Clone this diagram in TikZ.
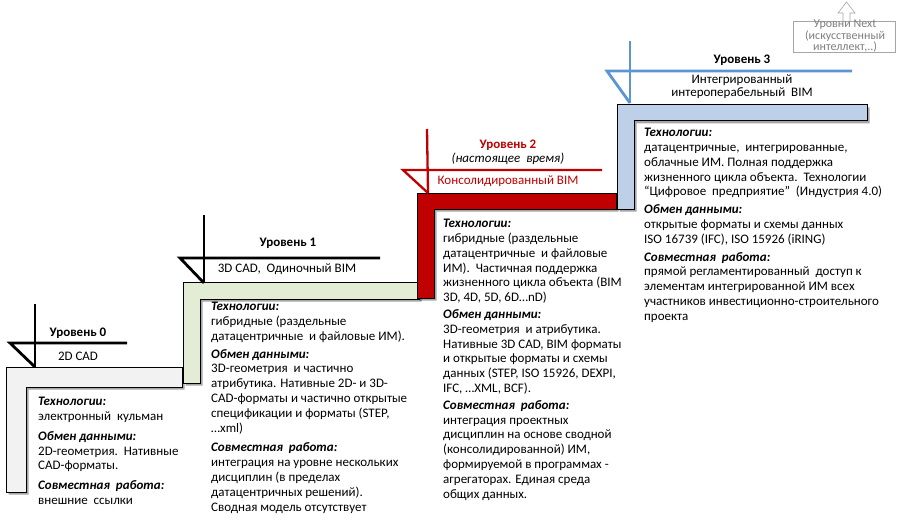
\documentclass[tikz,border=0pt]{standalone}
\usepackage{fontspec}
\setmainfont{Carlito}
\usetikzlibrary{shadows}
\definecolor{stepgray}{HTML}{F2F2F2}
\definecolor{stepgreen}{HTML}{E3EDD6}
\definecolor{stepred}{HTML}{C00000}
\definecolor{stepblue}{HTML}{BDD0E8}
\definecolor{markblue}{HTML}{5B96D2}
\definecolor{nextgray}{HTML}{A6A6A6}
\definecolor{nexttext}{HTML}{7F7F7F}
\newcommand\lvhead[1]{\textbf{\textit{#1}}}
\begin{document}
\begin{tikzpicture}[x=1pt,y=-1pt,
  stepshape/.style={draw=black, line width=1pt, drop shadow={shadow xshift=2.5pt, shadow yshift=-2.5pt, opacity=0.35, fill=black}},
  marker/.style={line width=2.8pt},
  body/.style={anchor=north west, align=left, inner sep=0pt, font=\fontsize{13}{14.8}\selectfont},
  title/.style={inner sep=0pt, font=\fontsize{13}{14}\selectfont\bfseries},
  sub/.style={inner sep=0pt, font=\fontsize{13}{14}\selectfont},
  nexttxt/.style={inner sep=0pt, text=nexttext, font=\fontsize{12}{12}\selectfont}
]
\useasboundingbox[fill=white] (0,0) rectangle (897,524);

% ---------- Level 0 ----------
\draw[stepshape, fill=stepgray] (6,367) -- (182,367) -- (182,387) -- (26,387) -- (26,492) -- (6,492) -- cycle;
\coordinate (m0t) at (35,304);
\coordinate (m0b) at (35,367);
\coordinate (m0l) at (10,343);
\coordinate (m0r) at (127,343);
\draw[marker] (m0t) -- (m0b);
\draw[marker, line join=miter] (m0r) -- (m0l) -- (m0b);
\node[title] (t0) at (78,333) {Уровень 0};
\node[sub] (s0) at (78,356) {2D CAD};
\node[body] (b0) at (38,397) {\lvhead{Технологии:}\\
электронный\ \ кульман\\[5pt]
\lvhead{Обмен данными:}\\
2D-геометрия.\ \ Нативные\\
CAD-форматы.\\[5pt]
\lvhead{Совместная\ \ работа:}\\
внешние\ \ ссылки};

% ---------- Level 1 ----------
\draw[stepshape, fill=stepgreen] (183,282) -- (419,282) -- (419,299) -- (200,299) -- (200,383) -- (183,383) -- cycle;
\coordinate (m1t) at (204,215);
\coordinate (m1b) at (204,283);
\coordinate (m1l) at (180,258);
\coordinate (m1r) at (380,258);
\draw[marker] (m1t) -- (m1b);
\draw[marker, line join=miter] (m1r) -- (m1l) -- (m1b);
\node[title] (t1) at (288,243) {Уровень 1};
\node[sub] (s1) at (287,269) {3D CAD,\ \ Одиночный BIM};
\node[body] (b1) at (211,302) {\lvhead{Технологии:}\\
гибридные (раздельные\\
датацентричные\ \ и файловые ИМ).\\[3pt]
\lvhead{Обмен данными:}\\
3D-геометрия\ \ и частично\\
атрибутика. Нативные 2D- и 3D-\\
CAD-форматы и частично открытые\\
спецификации и форматы (STEP,\\
…xml)\\[5pt]
\lvhead{Совместная\ \ работа:}\\
интеграция на уровне нескольких\\
дисциплин (в пределах\\
датацентричных решений).\\
Сводная модель отсутствует};

% ---------- Level 2 ----------
\draw[stepshape, fill=stepred] (417,193) -- (616,193) -- (616,209) -- (434,209) -- (434,298) -- (417,298) -- cycle;
\coordinate (m2t) at (427,129);
\coordinate (m2b) at (428,193);
\coordinate (m2l) at (403,170);
\coordinate (m2r) at (602,170);
\draw[marker, stepred, line width=2.3pt] (m2t) -- (m2b);
\draw[marker, stepred, line width=2.3pt, line join=miter] (m2r) -- (m2l) -- (m2b);
\node[title, text=stepred] (t2) at (508,145) {Уровень 2};
\node[sub, font=\fontsize{13}{14}\selectfont\itshape] (n2) at (508,159) {(настоящее\ \ время)};
\node[sub, text=stepred] (s2) at (508,181) {Консолидированный BIM};
\node[body] (b2) at (443,219) {\lvhead{Технологии:}\\
гибридные (раздельные\\
датацентричные\ \ и файловые\\
ИМ).\ \ Частичная поддержка\\
жизненного цикла объекта (BIM\\
3D, 4D, 5D, 6D…nD)\\[2pt]
\lvhead{Обмен данными:}\\
3D-геометрия\ \ и атрибутика.\\
Нативные 3D CAD, BIM форматы\\
и открытые форматы и схемы\\
данных (STEP, ISO 15926, DEXPI,\\
IFC, …XML, BCF).\\[2pt]
\lvhead{Совместная\ \ работа:}\\
интеграция проектных\\
дисциплин на основе сводной\\
(консолидированной) ИМ,\\
формируемой в программах -\\
агрегаторах. Единая среда\\
общих данных.};

% ---------- Level 3 ----------
\draw[stepshape, fill=stepblue] (617,105) -- (867,105) -- (867,121) -- (634,121) -- (634,209) -- (617,209) -- cycle;
\coordinate (m3t) at (630,41);
\coordinate (m3b) at (630,103);
\coordinate (m3l) at (607,71);
\coordinate (m3r) at (852,71);
\draw[marker, markblue] (m3t) -- (m3b);
\draw[marker, markblue, line join=miter] (m3r) -- (m3l) -- (m3b);
\node[title] (t3) at (742,60) {Уровень 3};
\node[sub] (s3a) at (742,80) {Интегрированный};
\node[sub] (s3b) at (742,93) {интероперабельный\ \ BIM};
\node[body] (b3) at (644,128) {\lvhead{Технологии:}\\
датацентричные,\ \ интегрированные,\\
облачные ИМ. Полная поддержка\\
жизненного цикла объекта.\ \ Технологии\\
“Цифровое\ \ предприятие”\ \ (Индустрия 4.0)\\[3pt]
\lvhead{Обмен данными:}\\
открытые форматы и схемы данных\\
ISO 16739 (IFC), ISO 15926 (iRING)\\[3pt]
\lvhead{Совместная\ \ работа:}\\
прямой регламентированный\ \ доступ к\\
элементам интегрированной ИМ всех\\
участников инвестиционно-строительного\\
проекта};

% ---------- Next levels ----------
\node[draw=nextgray, fill=white, minimum width=102pt, minimum height=31pt, inner sep=0pt] (nx) at (844,36.5) {};
\node[nexttxt] (nx1) at (845,25) {Уровни Next};
\node[nexttxt] (nx2) at (845,36) {(искусственный};
\node[nexttxt] (nx3) at (845,47) {интеллект,..)};
\draw[nextgray, fill=white, line width=0.6pt] (nx.north -| 843,0) -- (843,13) -- (838,13) -- (846.5,2) -- (855,13) -- (850,13) -- (nx.north -| 850,0);
\end{tikzpicture}
\end{document}
